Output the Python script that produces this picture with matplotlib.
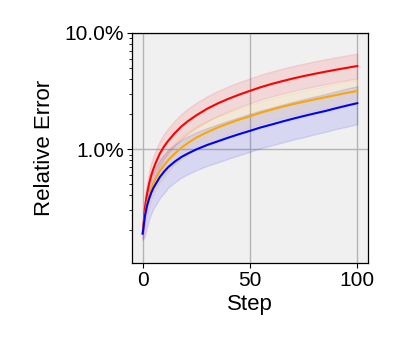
import matplotlib
matplotlib.use("Agg")
import matplotlib.pyplot as plt
from matplotlib.ticker import FixedLocator, FuncFormatter, LogLocator, NullFormatter

plt.rcParams['font.family'] = ['Liberation Sans', 'DejaVu Sans']

steps = [0, 1, 2, 3, 4, 5, 6, 8, 10, 12, 15, 18, 21, 25, 30, 35, 40, 45, 50,
         55, 60, 65, 70, 75, 80, 85, 90, 95, 100]

red_mean = [0.188, 0.31, 0.41, 0.51, 0.60, 0.68, 0.76, 0.92, 1.06, 1.19, 1.38, 1.57, 1.74, 1.96, 2.23,
            2.48, 2.72, 2.95, 3.18, 3.42, 3.64, 3.85, 4.06, 4.26, 4.45, 4.64, 4.83, 5.01, 5.20]
red_hi = [0.21, 0.40, 0.52, 0.65, 0.77, 0.87, 0.97, 1.18, 1.36, 1.52, 1.77, 2.01, 2.23, 2.51, 2.85,
          3.17, 3.48, 3.78, 4.07, 4.38, 4.66, 4.93, 5.20, 5.45, 5.70, 5.94, 6.18, 6.41, 6.66]
red_lo = [0.17, 0.24, 0.32, 0.40, 0.47, 0.53, 0.59, 0.72, 0.83, 0.93, 1.08, 1.22, 1.36, 1.53, 1.74,
          1.93, 2.12, 2.30, 2.48, 2.67, 2.84, 3.00, 3.17, 3.32, 3.47, 3.62, 3.77, 3.91, 4.06]

orange_mean = [0.188, 0.272, 0.341, 0.40, 0.457, 0.509, 0.558, 0.649, 0.73, 0.81, 0.92, 1.03, 1.13, 1.26, 1.40,
               1.54, 1.67, 1.80, 1.92, 2.06, 2.19, 2.32, 2.44, 2.56, 2.68, 2.80, 2.92, 3.05, 3.17]
orange_hi = [0.21, 0.34, 0.43, 0.50, 0.57, 0.64, 0.70, 0.81, 0.91, 1.01, 1.15, 1.29, 1.41, 1.58, 1.75,
             1.93, 2.09, 2.25, 2.40, 2.58, 2.74, 2.90, 3.05, 3.20, 3.35, 3.50, 3.65, 3.81, 3.96]
orange_lo = [0.17, 0.22, 0.27, 0.32, 0.37, 0.41, 0.45, 0.52, 0.58, 0.65, 0.74, 0.82, 0.90, 1.01, 1.12,
             1.23, 1.34, 1.44, 1.54, 1.65, 1.75, 1.86, 1.95, 2.05, 2.14, 2.24, 2.34, 2.44, 2.54]

blue_mean = [0.188, 0.266, 0.326, 0.376, 0.423, 0.465, 0.50, 0.577, 0.643, 0.705, 0.784, 0.857, 0.918, 0.997, 1.087,
             1.17, 1.26, 1.35, 1.44, 1.54, 1.63, 1.73, 1.83, 1.93, 2.03, 2.13, 2.25, 2.37, 2.49]
blue_hi = [0.21, 0.37, 0.46, 0.53, 0.59, 0.65, 0.70, 0.81, 0.90, 0.99, 1.10, 1.20, 1.29, 1.40, 1.52,
           1.64, 1.76, 1.89, 2.02, 2.16, 2.28, 2.42, 2.56, 2.70, 2.84, 2.98, 3.15, 3.32, 3.49]
blue_lo = [0.165, 0.18, 0.215, 0.25, 0.28, 0.31, 0.33, 0.38, 0.42, 0.47, 0.52, 0.57, 0.61, 0.66, 0.72,
           0.77, 0.83, 0.89, 0.95, 1.02, 1.08, 1.14, 1.21, 1.27, 1.34, 1.41, 1.49, 1.56, 1.64]

series = [
    ("red", red_mean, red_lo, red_hi),
    ("orange", orange_mean, orange_lo, orange_hi),
    ("blue", blue_mean, blue_lo, blue_hi),
]

x_ticks = [0, 50, 100]
y_major = [1.0, 10.0]

fig = plt.figure(figsize=(3.99, 3.49), dpi=100)
ax = fig.add_axes([132/399, 1 - 263/349, (368 - 132)/399, (263 - 33)/349])
ax.set_facecolor('#f0f0f0')

for color, m, lo, hi in series:
    ax.fill_between(steps, lo, hi, color=color, alpha=0.1, linewidth=1)
for color, m, lo, hi in series:
    ax.plot(steps, m, color=color, linewidth=1.5)

ax.set_yscale('log')
ax.set_ylim(0.105, 10.0)
ax.set_xlim(-5, 105)
ax.set_xticks(x_ticks)
ax.yaxis.set_major_locator(FixedLocator(y_major))
ax.yaxis.set_major_formatter(FuncFormatter(lambda v, p: f"{v:.1f}%"))
ax.yaxis.set_minor_locator(LogLocator(base=10, subs=range(2, 10)))
ax.yaxis.set_minor_formatter(NullFormatter())
ax.grid(True, which='major', color='#b4b4b4', linewidth=1)
ax.set_axisbelow(True)
ax.tick_params(axis='both', which='major', labelsize=15, length=3.5, width=0.8, pad=2)
ax.tick_params(axis='y', which='minor', length=2, width=0.6)
for s in ax.spines.values():
    s.set_linewidth(0.9)
ax.set_xlabel('Step', fontsize=16, labelpad=3)
ax.set_ylabel('Relative Error', fontsize=16, labelpad=7)

fig.savefig('out.png', dpi=100)
